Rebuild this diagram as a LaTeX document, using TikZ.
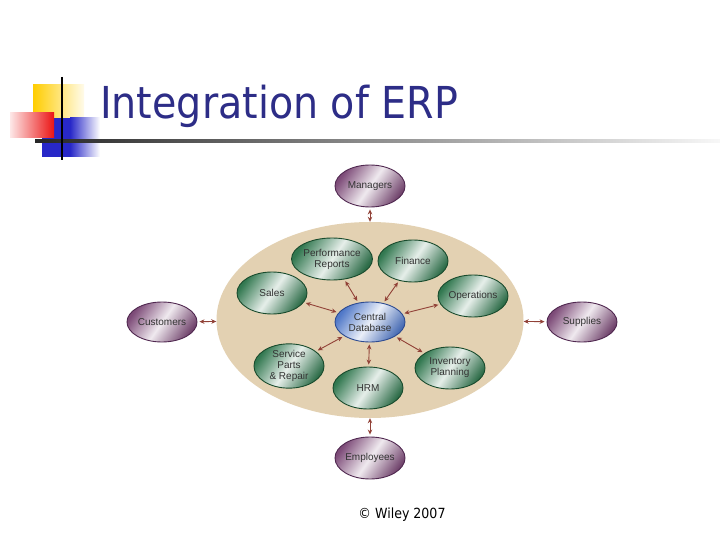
\documentclass[tikz,border=0pt]{standalone}
\usepackage{fontspec}
\setmainfont{Liberation Sans}
\newfontfamily\titlefont[FakeStretch=0.9]{DejaVu Sans}
\usetikzlibrary{shapes.geometric,arrows.meta}
\definecolor{titleblue}{RGB}{45,45,135}
\definecolor{platec}{RGB}{227,209,178}
\definecolor{purp}{RGB}{125,75,120}
\definecolor{purpd}{RGB}{80,40,80}
\definecolor{grn}{RGB}{50,120,80}
\definecolor{grnd}{RGB}{25,75,45}
\definecolor{blu}{RGB}{80,120,200}
\definecolor{blud}{RGB}{45,75,145}
\definecolor{arrowc}{RGB}{145,65,55}
\definecolor{yel}{RGB}{255,205,0}
\definecolor{decblue}{RGB}{40,40,200}
\definecolor{decred}{RGB}{235,20,20}
\tikzset{
  base/.style={ellipse, minimum width=70pt, minimum height=42pt, inner sep=0pt,
    align=center, font=\fontsize{10}{11}\selectfont, text=black!80, line width=0.9pt},
  purpnode/.style={base, draw=purpd, left color=purp, right color=purp!90!black,
    middle color=white!88!purp, shading angle=55},
  grnnode/.style={base, draw=grnd, left color=grn, right color=grn!90!black,
    middle color=white!88!grn, shading angle=55},
  blunode/.style={base, draw=blud, left color=blu, right color=blu!90!black,
    middle color=white!88!blu, shading angle=55, minimum height=40pt},
  arr/.style={{Stealth[length=5pt,width=4.5pt]}-{Stealth[length=5pt,width=4.5pt]},
    draw=arrowc, line width=0.9pt, shorten >=2pt, shorten <=2pt},
  outarr/.style={arr, shorten >=0pt}
}
\begin{document}
\begin{tikzpicture}[x=1pt,y=-1pt]
\useasboundingbox (0,0) rectangle (720,540);
\fill[white] (0,0) rectangle (720,540);
% title decoration
\shade[left color=yel, right color=yel!8] (33,85) rectangle (84,118);
\fill[decblue] (42,118) rectangle (70,157);
\shade[left color=decblue, right color=white] (70,118) rectangle (100,157);
\shade[left color=decred!10, right color=decred] (10,113) rectangle (54,138);
\shade[left color=black!85, right color=black!3] (35,140) rectangle (720,142.5);
\draw[line width=2.2pt] (62,77) -- (62,160);
\node[anchor=base west, inner sep=0pt, text=titleblue,
  font=\titlefont\fontsize{44}{48}\selectfont] (title) at (100,119) {Integration of ERP};
% plate
\node[ellipse, fill=platec, minimum width=307pt, minimum height=196pt, inner sep=0pt] (plate) at (370,320) {};
% outer nodes
\node[purpnode] (mgr) at (370,186) {Managers};
\node[purpnode, minimum height=40pt] (cust) at (162,322) {Customers};
\node[purpnode, minimum height=40pt] (sup) at (582,322) {Supplies};
\node[purpnode] (emp) at (370,458) {Employees};
% inner nodes
\node[blunode] (db) at (370,322) {Central\\Database};
\node[grnnode] (perf) at (332,259) {Performance\\Reports};
\node[grnnode] (fin) at (413,261) {Finance};
\node[grnnode] (sales) at (272,293) {Sales};
\node[grnnode] (ops) at (473,296) {Operations};
\node[grnnode] (svc) at (289,366) {Service\\Parts\\\& Repair};
\node[grnnode] (hrm) at (368,388) {HRM};
\node[grnnode] (inv) at (450,368) {Inventory\\Planning};
% inner arrows
\foreach \n in {perf,fin,sales,ops,svc,hrm,inv}
  \draw[arr] (db) -- (\n);
% outer arrows
\draw[outarr] (mgr) -- (plate);
\draw[outarr] (cust) -- (plate);
\draw[outarr] (sup) -- (plate);
\draw[outarr] (emp) -- (plate);
% copyright
\node[font=\titlefont\fontsize{14}{16}\selectfont, text=black] (copy) at (402,515) {© Wiley 2007};
\end{tikzpicture}
\end{document}
